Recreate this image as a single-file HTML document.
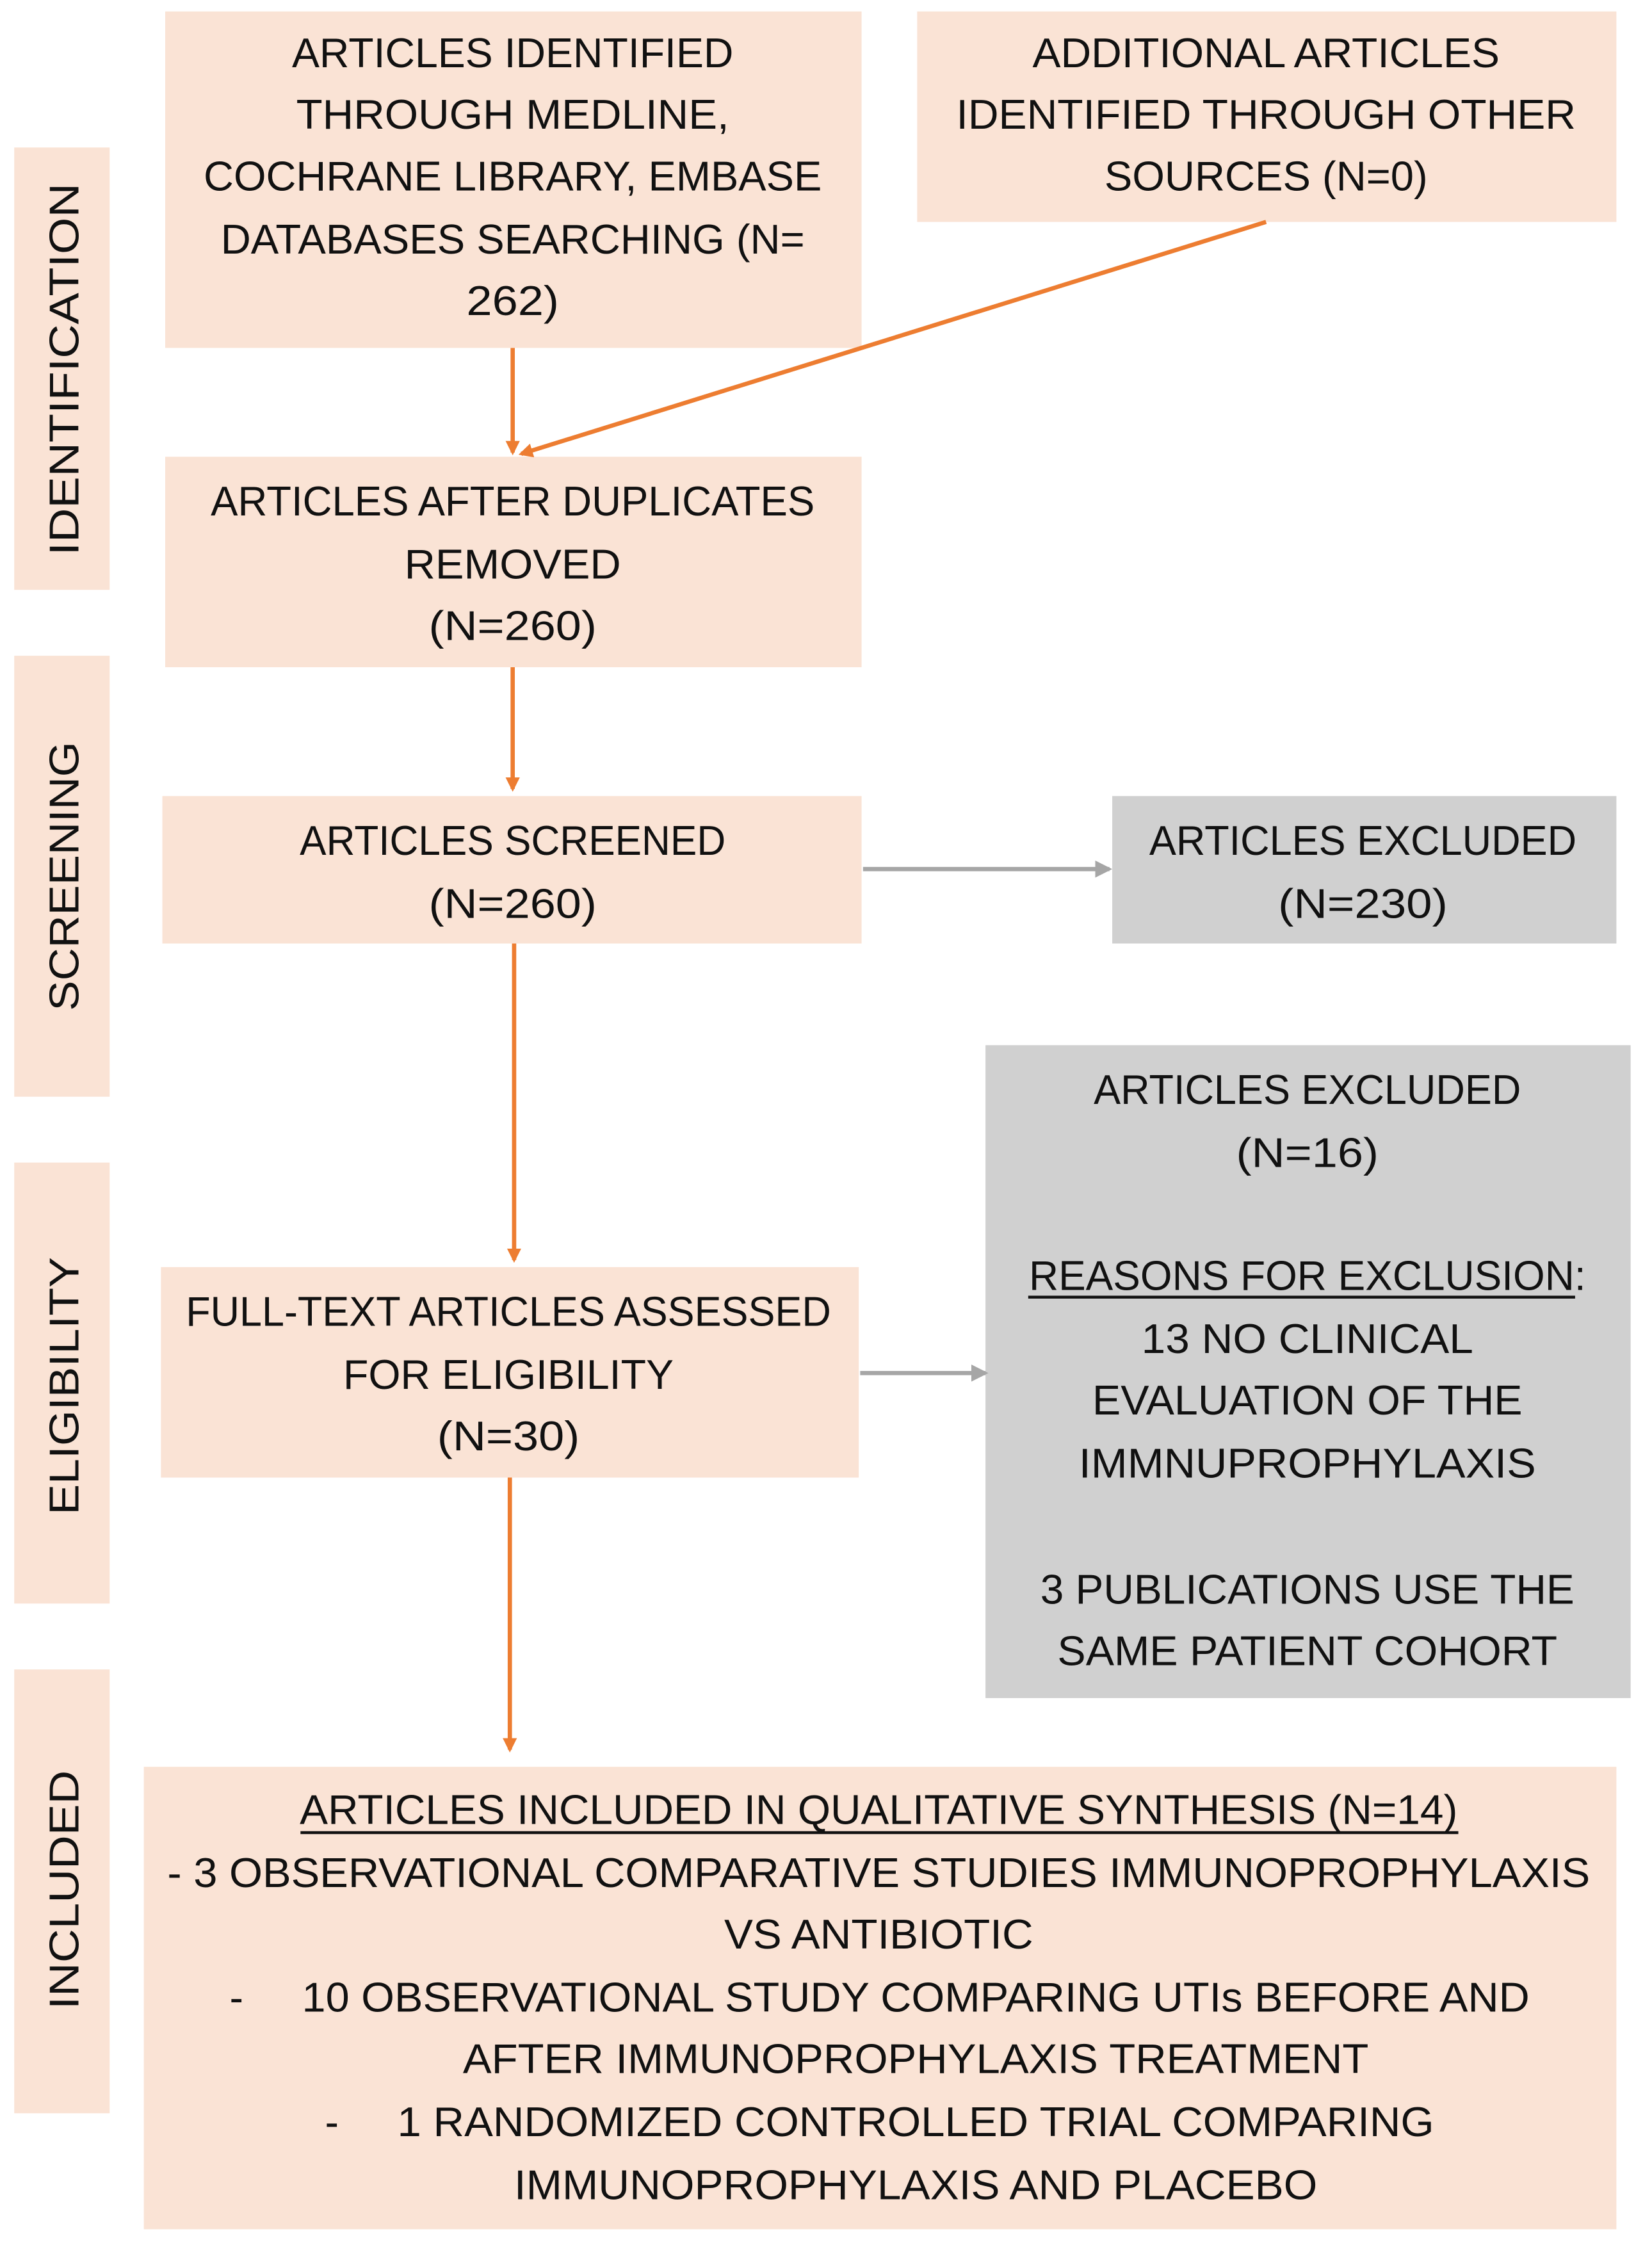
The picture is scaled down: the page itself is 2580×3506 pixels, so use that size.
<!DOCTYPE html>
<html><head><meta charset="utf-8"><style>
html,body{margin:0;padding:0;background:#fff;}
svg{display:block;}
text{font-family:"Liberation Sans",sans-serif;font-size:29px;fill:#111;}
</style></head><body>
<svg width="2580" height="3506" viewBox="0 0 1160 1568" preserveAspectRatio="none" xmlns="http://www.w3.org/2000/svg">
<defs>
<marker id="ao" markerWidth="10" markerHeight="10" refX="8" refY="5" orient="auto" markerUnits="userSpaceOnUse"><path d="M0,0 L10,5 L0,10 z" fill="#ed7d31"/></marker>
<marker id="ag" markerWidth="12" markerHeight="12" refX="10" refY="6" orient="auto" markerUnits="userSpaceOnUse"><path d="M0,0 L12,6 L0,12 z" fill="#a6a6a6"/></marker>
</defs>
<g fill="#fae3d5">
<rect x="10" y="103" width="67" height="309"/>
<rect x="10" y="458" width="67" height="308"/>
<rect x="10" y="812" width="67" height="308"/>
<rect x="10" y="1166" width="67" height="310"/>
<rect x="116" y="8" width="489" height="235"/>
<rect x="644" y="8" width="491" height="147"/>
<rect x="116" y="319" width="489" height="147"/>
<rect x="114" y="556" width="491" height="103"/>
<rect x="113" y="885" width="490" height="147"/>
<rect x="101" y="1234" width="1034" height="323"/>
</g>
<g fill="#d0d0d0">
<rect x="781" y="556" width="354" height="103"/>
<rect x="692" y="730" width="453" height="456"/>
</g>
<g stroke="#ed7d31" stroke-width="3" fill="none">
<line x1="360" y1="243" x2="360" y2="316" marker-end="url(#ao)"/>
<line x1="889" y1="155" x2="366" y2="317" marker-end="url(#ao)"/>
<line x1="360" y1="466" x2="360" y2="551" marker-end="url(#ao)"/>
<line x1="361" y1="659" x2="361" y2="880" marker-end="url(#ao)"/>
<line x1="358" y1="1032" x2="358" y2="1222" marker-end="url(#ao)"/>
</g>
<g stroke="#a6a6a6" stroke-width="3" fill="none">
<line x1="606" y1="607" x2="779" y2="607" marker-end="url(#ag)"/>
<line x1="604" y1="959" x2="692" y2="959" marker-end="url(#ag)"/>
</g>
<g font-size="32">
<text transform="translate(55,258) rotate(-90)" text-anchor="middle" textLength="260" lengthAdjust="spacingAndGlyphs">IDENTIFICATION</text>
<text transform="translate(55,612) rotate(-90)" text-anchor="middle" textLength="188" lengthAdjust="spacingAndGlyphs">SCREENING</text>
<text transform="translate(55,968) rotate(-90)" text-anchor="middle" textLength="180" lengthAdjust="spacingAndGlyphs">ELIGIBILITY</text>
<text transform="translate(55,1320) rotate(-90)" text-anchor="middle" textLength="167" lengthAdjust="spacingAndGlyphs">INCLUDED</text>
</g>
<g text-anchor="middle" lengthAdjust="spacingAndGlyphs">
<text x="360" y="47" textLength="310" lengthAdjust="spacingAndGlyphs">ARTICLES IDENTIFIED</text>
<text x="360" y="90" textLength="304" lengthAdjust="spacingAndGlyphs">THROUGH MEDLINE,</text>
<text x="360" y="133" textLength="434" lengthAdjust="spacingAndGlyphs">COCHRANE LIBRARY, EMBASE</text>
<text x="360" y="177" textLength="410" lengthAdjust="spacingAndGlyphs">DATABASES SEARCHING (N=</text>
<text x="360" y="220" textLength="65" lengthAdjust="spacingAndGlyphs">262)</text>

<text x="889" y="47" textLength="328" lengthAdjust="spacingAndGlyphs">ADDITIONAL ARTICLES</text>
<text x="889" y="90" textLength="435" lengthAdjust="spacingAndGlyphs">IDENTIFIED THROUGH OTHER</text>
<text x="889" y="133" textLength="227" lengthAdjust="spacingAndGlyphs">SOURCES (N=0)</text>

<text x="360" y="360" textLength="424" lengthAdjust="spacingAndGlyphs">ARTICLES AFTER DUPLICATES</text>
<text x="360" y="404" textLength="152" lengthAdjust="spacingAndGlyphs">REMOVED</text>
<text x="360" y="447" textLength="118" lengthAdjust="spacingAndGlyphs">(N=260)</text>

<text x="360" y="597" textLength="299" lengthAdjust="spacingAndGlyphs">ARTICLES SCREENED</text>
<text x="360" y="641" textLength="118" lengthAdjust="spacingAndGlyphs">(N=260)</text>

<text x="957" y="597" textLength="300" lengthAdjust="spacingAndGlyphs">ARTICLES EXCLUDED</text>
<text x="957" y="641" textLength="119" lengthAdjust="spacingAndGlyphs">(N=230)</text>

<text x="918" y="771" textLength="300" lengthAdjust="spacingAndGlyphs">ARTICLES EXCLUDED</text>
<text x="918" y="815" textLength="100" lengthAdjust="spacingAndGlyphs">(N=16)</text>
<text x="918" y="901" textLength="391" lengthAdjust="spacingAndGlyphs">REASONS FOR EXCLUSION:</text>
<text x="918" y="945" textLength="233" lengthAdjust="spacingAndGlyphs">13 NO CLINICAL</text>
<text x="918" y="988" textLength="302" lengthAdjust="spacingAndGlyphs">EVALUATION OF THE</text>
<text x="918" y="1032" textLength="321" lengthAdjust="spacingAndGlyphs">IMMNUPROPHYLAXIS</text>
<text x="918" y="1120" textLength="375" lengthAdjust="spacingAndGlyphs">3 PUBLICATIONS USE THE</text>
<text x="918" y="1163" textLength="351" lengthAdjust="spacingAndGlyphs">SAME PATIENT COHORT</text>

<text x="357" y="926" textLength="453" lengthAdjust="spacingAndGlyphs">FULL-TEXT ARTICLES ASSESSED</text>
<text x="357" y="970" textLength="232" lengthAdjust="spacingAndGlyphs">FOR ELIGIBILITY</text>
<text x="357" y="1013" textLength="100" lengthAdjust="spacingAndGlyphs">(N=30)</text>

<text x="617" y="1274" textLength="813" lengthAdjust="spacingAndGlyphs">ARTICLES INCLUDED IN QUALITATIVE SYNTHESIS (N=14)</text>
<text x="617" y="1318" textLength="999" lengthAdjust="spacingAndGlyphs">- 3 OBSERVATIONAL COMPARATIVE STUDIES IMMUNOPROPHYLAXIS</text>
<text x="617" y="1361" textLength="217" lengthAdjust="spacingAndGlyphs">VS ANTIBIOTIC</text>
<text x="166" y="1405">-</text>
<text x="643" y="1405" textLength="862" lengthAdjust="spacingAndGlyphs">10 OBSERVATIONAL STUDY COMPARING UTIs BEFORE AND</text>
<text x="643" y="1448" textLength="636" lengthAdjust="spacingAndGlyphs">AFTER IMMUNOPROPHYLAXIS TREATMENT</text>
<text x="233" y="1492">-</text>
<text x="643" y="1492" textLength="728" lengthAdjust="spacingAndGlyphs">1 RANDOMIZED CONTROLLED TRIAL COMPARING</text>
<text x="643" y="1536" textLength="564" lengthAdjust="spacingAndGlyphs">IMMUNOPROPHYLAXIS AND PLACEBO</text>
</g>
<g stroke="#111" stroke-width="2">
<line x1="722" y1="906" x2="1106" y2="906"/>
<line x1="211" y1="1280" x2="1024" y2="1280"/>
</g>
</svg>
</body></html>
